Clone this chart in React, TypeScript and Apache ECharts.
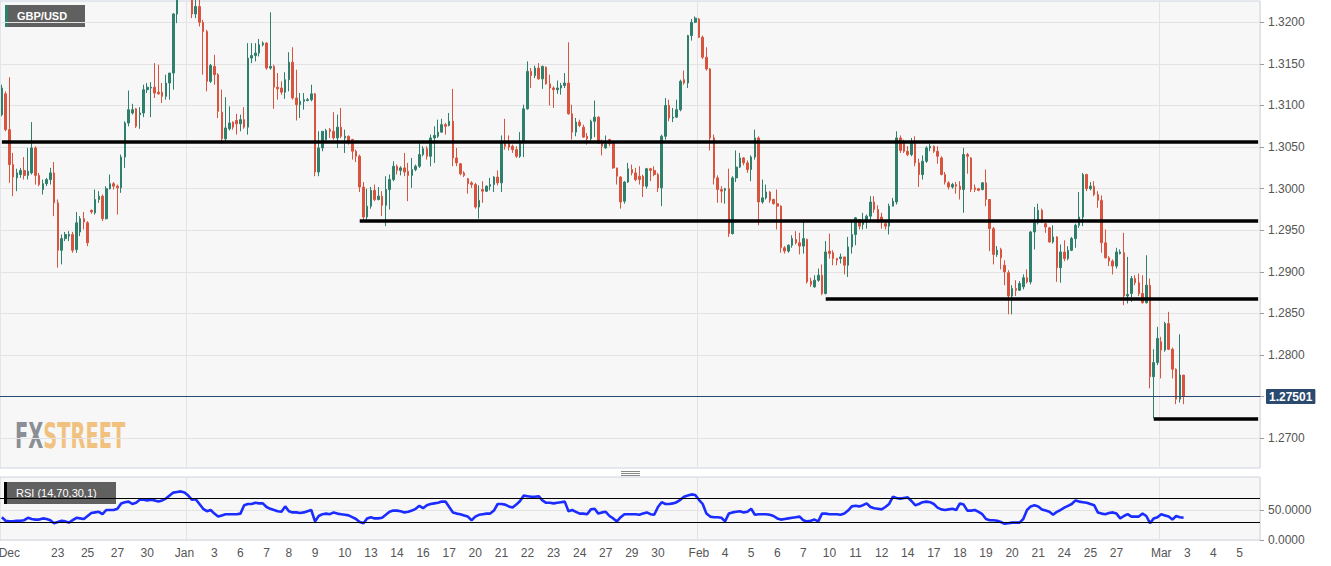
import React, { useEffect, useRef } from "react";
import * as echarts from "echarts";

// [open, close, low, high] — 4-hour GBP/USD candles
const candlesDec: number[][] = [
  [1.3089,1.3121,1.3087,1.3125],[1.3114,1.3071,1.3069,1.3117],[1.3071,1.3029,1.3007,1.3134],[1.3029,1.3014,1.2991,1.3043],
  [1.3013,1.3019,1.2997,1.3024],[1.3017,1.3022,1.3013,1.3025],[1.3022,1.3016,1.3011,1.3038],[1.3016,1.3021,1.3011,1.3049],
  [1.3019,1.3049,1.3017,1.3080],[1.3049,1.3016,1.3005,1.3051],[1.3016,1.3005,1.3003,1.3019],[1.2999,1.3006,1.2993,1.3011],
  [1.3006,1.3011,1.3003,1.3013],[1.3011,1.3019,1.3005,1.3025],[1.3019,1.2983,1.2967,1.3032],[1.2983,1.2926,1.2905,1.2987],
  [1.2926,1.2940,1.2909,1.2945],[1.2940,1.2945,1.2937,1.2948],[1.2943,1.2945,1.2937,1.2949],[1.2945,1.2926,1.2923,1.2948],
  [1.2927,1.2959,1.2923,1.2972],[1.2948,1.2964,1.2943,1.2967],[1.2964,1.2960,1.2951,1.2972],[1.2959,1.2935,1.2931,1.2961],
  [1.2974,1.2972,1.2970,1.2975],[1.2971,1.2987,1.2969,1.2999],[1.2987,1.2991,1.2983,1.2997],[1.2991,1.2964,1.2961,1.2993],
  [1.2964,1.3000,1.2963,1.3003],[1.3000,1.3006,1.2999,1.3017],[1.3006,1.3003,1.2999,1.3008],[1.3003,1.3001,1.2969,1.3005],
  [1.3001,1.3038,1.2995,1.3041],[1.3038,1.3079,1.3025,1.3081],[1.3079,1.3095,1.3075,1.3118],[1.3091,1.3095,1.3089,1.3102],
  [1.3096,1.3075,1.3073,1.3097],[1.3089,1.3091,1.3072,1.3098],[1.3091,1.3119,1.3086,1.3125],[1.3119,1.3122,1.3115,1.3127],
  [1.3121,1.3122,1.3086,1.3128],[1.3122,1.3115,1.3109,1.3151],[1.3116,1.3114,1.3113,1.3149],[1.3116,1.3111,1.3103,1.3127],
  [1.3111,1.3127,1.3107,1.3137],[1.3127,1.3139,1.3107,1.3139],[1.3139,1.3210,1.3119,1.3211],[1.3210,1.3240,1.3199,1.3255],
  [1.3240,1.3265,1.3232,1.3285],[1.3265,1.3250,1.3240,1.3275],[1.3250,1.3235,1.3228,1.3260],[1.3235,1.3210,1.3205,1.3245],
  [1.3210,1.3219,1.3205,1.3232],[1.3219,1.3200,1.3195,1.3227],[1.3200,1.3189,1.3137,1.3203],[1.3189,1.3129,1.3117,1.3191],
  [1.3129,1.3148,1.3127,1.3150],[1.3147,1.3137,1.3125,1.3161],[1.3137,1.3093,1.3085,1.3139],[1.3092,1.3060,1.3054,1.3119],
  [1.3060,1.3073,1.3055,1.3110],[1.3072,1.3079,1.3070,1.3099],[1.3080,1.3074,1.3071,1.3081],[1.3082,1.3078,1.3065,1.3090],
  [1.3078,1.3083,1.3069,1.3089],[1.3083,1.3074,1.3072,1.3098],[1.3074,1.3157,1.3065,1.3175],[1.3157,1.3160,1.3151,1.3175],
  [1.3160,1.3163,1.3153,1.3175],[1.3163,1.3173,1.3159,1.3180],[1.3173,1.3175,1.3171,1.3177],[1.3175,1.3145,1.3143,1.3176],
  [1.3145,1.3147,1.3143,1.3212],[1.3147,1.3122,1.3096,1.3149],[1.3122,1.3120,1.3107,1.3139],[1.3121,1.3116,1.3113,1.3129],
  [1.3116,1.3131,1.3108,1.3140],[1.3131,1.3152,1.3117,1.3164],[1.3152,1.3109,1.3107,1.3170],[1.3109,1.3101,1.3082,1.3143],
  [1.3101,1.3105,1.3085,1.3115],[1.3105,1.3107,1.3095,1.3115],[1.3106,1.3107,1.3105,1.3109],[1.3107,1.3114,1.3105,1.3125],
  [1.3114,1.3020,1.3015,1.3115],[1.3020,1.3049,1.3015,1.3069],[1.3049,1.3069,1.3045,1.3069],[1.3059,1.3070,1.3057,1.3072],
  [1.3071,1.3069,1.3061,1.3073],
];

const candlesJan: number[][] = [
  [1.3069,1.3061,1.3059,1.3092],[1.3061,1.3074,1.3049,1.3089],[1.3074,1.3063,1.3061,1.3097],[1.3061,1.3063,1.3043,1.3071],
  [1.3063,1.3055,1.3053,1.3064],[1.3059,1.3045,1.3035,1.3060],[1.3045,1.3039,1.3032,1.3047],[1.3039,1.3002,1.2996,1.3041],
  [1.3002,1.2966,1.2963,1.3008],[1.2966,1.2979,1.2963,1.3000],[1.2979,1.2998,1.2976,1.3002],[1.2998,1.2987,1.2985,1.3005],
  [1.2987,1.2991,1.2986,1.3002],[1.2991,1.2980,1.2967,1.2997],[1.2980,1.2999,1.2955,1.3015],[1.2999,1.3011,1.2975,1.3017],
  [1.3011,1.3027,1.3009,1.3033],[1.3027,1.3022,1.3017,1.3029],[1.3022,1.3025,1.3016,1.3027],[1.3025,1.3020,1.3015,1.3043],
  [1.3021,1.3016,1.2985,1.3031],[1.3016,1.3023,1.3001,1.3037],[1.3023,1.3027,1.3021,1.3029],[1.3027,1.3041,1.3025,1.3055],
  [1.3041,1.3048,1.3039,1.3051],[1.3048,1.3039,1.3035,1.3051],[1.3039,1.3061,1.3027,1.3065],[1.3061,1.3064,1.3031,1.3075],
  [1.3063,1.3068,1.3061,1.3083],[1.3068,1.3077,1.3067,1.3084],[1.3077,1.3075,1.3065,1.3079],[1.3076,1.3081,1.3075,1.3091],
  [1.3081,1.3037,1.3027,1.3120],[1.3037,1.3031,1.3027,1.3049],[1.3030,1.3018,1.3016,1.3031],[1.3019,1.3016,1.3014,1.3021],
  [1.3012,1.3006,1.2994,1.3013],[1.3007,1.3005,1.3001,1.3009],[1.3005,1.2978,1.2976,1.3007],[1.2978,1.2986,1.2964,1.3004],
  [1.2999,1.2997,1.2983,1.3009],[1.2997,1.3003,1.2996,1.3004],[1.3003,1.3005,1.2998,1.3013],[1.3005,1.3014,1.2996,1.3015],
  [1.3014,1.3007,1.3004,1.3022],[1.3007,1.3056,1.2996,1.3064],[1.3056,1.3051,1.3047,1.3084],[1.3055,1.3050,1.3046,1.3064],
  [1.3051,1.3047,1.3043,1.3053],[1.3047,1.3039,1.3037,1.3051],[1.3039,1.3056,1.3037,1.3068],[1.3056,1.3096,1.3038,1.3101],
  [1.3096,1.3141,1.3095,1.3153],[1.3141,1.3136,1.3121,1.3145],[1.3136,1.3145,1.3133,1.3148],[1.3145,1.3132,1.3131,1.3151],
  [1.3132,1.3147,1.3120,1.3148],[1.3146,1.3126,1.3125,1.3147],[1.3126,1.3121,1.3100,1.3137],[1.3121,1.3119,1.3097,1.3123],
  [1.3119,1.3121,1.3114,1.3130],[1.3121,1.3124,1.3113,1.3127],[1.3124,1.3127,1.3121,1.3139],[1.3127,1.3090,1.3089,1.3176],
  [1.3090,1.3068,1.3059,1.3101],[1.3068,1.3080,1.3063,1.3085],[1.3080,1.3076,1.3074,1.3083],[1.3074,1.3062,1.3061,1.3077],
  [1.3063,1.3060,1.3053,1.3067],[1.3060,1.3081,1.3055,1.3083],[1.3081,1.3086,1.3062,1.3106],[1.3086,1.3055,1.3054,1.3087],
  [1.3056,1.3051,1.3040,1.3059],[1.3049,1.3054,1.3048,1.3064],[1.3059,1.3054,1.3051,1.3060],[1.3055,1.3025,1.3024,1.3057],
  [1.3025,1.3015,1.3005,1.3025],[1.3014,1.2984,1.2976,1.3015],[1.2985,1.3008,1.2982,1.3009],[1.3008,1.3024,1.3007,1.3031],
  [1.3023,1.3019,1.3016,1.3029],[1.3019,1.3011,1.3009,1.3025],[1.3015,1.3011,1.3005,1.3027],[1.3015,1.3003,1.2990,1.3017],
  [1.3003,1.3024,1.3000,1.3025],[1.3024,1.3022,1.3009,1.3025],[1.3022,1.3017,1.3015,1.3027],[1.3017,1.3001,1.2996,1.3019],
];

const candlesFeb: number[][] = [
  [1.3001,1.3063,1.2979,1.3065],[1.3063,1.3100,1.3059,1.3109],[1.3100,1.3085,1.3081,1.3107],[1.3085,1.3086,1.3080,1.3097],
  [1.3086,1.3095,1.3085,1.3107],[1.3095,1.3129,1.3093,1.3131],[1.3131,1.3127,1.3125,1.3142],[1.3127,1.3184,1.3121,1.3185],
  [1.3184,1.3200,1.3178,1.3204],[1.3200,1.3205,1.3199,1.3207],[1.3204,1.3182,1.3181,1.3205],[1.3182,1.3158,1.3156,1.3184],
  [1.3158,1.3144,1.3142,1.3170],[1.3144,1.3061,1.3046,1.3145],[1.3061,1.3013,1.3005,1.3065],[1.3013,1.2999,1.2983,1.3016],
  [1.2999,1.2997,1.2983,1.3003],[1.2998,1.3000,1.2982,1.3001],[1.3000,1.2946,1.2942,1.3024],[1.2946,1.3013,1.2945,1.3015],
  [1.3013,1.3026,1.3008,1.3046],[1.3026,1.3037,1.3025,1.3043],[1.3037,1.3031,1.3028,1.3038],[1.3031,1.3023,1.3019,1.3034],
  [1.3023,1.3038,1.3009,1.3040],[1.3038,1.3061,1.3035,1.3071],[1.3061,1.2984,1.2956,1.3063],[1.2984,1.2989,1.2982,1.3011],
  [1.2989,1.2996,1.2987,1.3005],[1.2996,1.2986,1.2983,1.2997],[1.2987,1.2982,1.2981,1.2988],[1.2982,1.2979,1.2951,1.2999],
  [1.2979,1.2929,1.2923,1.2980],[1.2929,1.2925,1.2922,1.2931],[1.2925,1.2932,1.2923,1.2933],[1.2932,1.2940,1.2929,1.2944],
  [1.2939,1.2935,1.2933,1.2949],[1.2935,1.2931,1.2921,1.2947],[1.2931,1.2940,1.2922,1.2961],[1.2939,1.2888,1.2886,1.2940],
  [1.2889,1.2885,1.2882,1.2893],[1.2882,1.2890,1.2881,1.2896],[1.2890,1.2896,1.2888,1.2904],[1.2896,1.2874,1.2872,1.2909],
  [1.2874,1.2924,1.2873,1.2937],[1.2925,1.2922,1.2916,1.2946],[1.2923,1.2916,1.2908,1.2926],[1.2916,1.2914,1.2908,1.2917],
  [1.2916,1.2918,1.2910,1.2922],[1.2918,1.2908,1.2897,1.2918],[1.2908,1.2930,1.2894,1.2942],[1.2930,1.2945,1.2922,1.2960],
  [1.2945,1.2965,1.2932,1.2966],[1.2963,1.2955,1.2951,1.2963],[1.2957,1.2961,1.2951,1.2971],[1.2960,1.2967,1.2952,1.2969],
  [1.2967,1.2984,1.2960,1.2991],[1.2984,1.2975,1.2971,1.2991],[1.2975,1.2961,1.2959,1.2980],[1.2966,1.2960,1.2952,1.2971],
  [1.2958,1.2955,1.2951,1.2960],[1.2955,1.2979,1.2945,1.2982],[1.2979,1.2985,1.2979,1.2989],[1.2984,1.3061,1.2981,1.3069],
  [1.3061,1.3046,1.3043,1.3064],[1.3056,1.3045,1.3043,1.3059],[1.3045,1.3041,1.3039,1.3051],[1.3041,1.3056,1.3039,1.3061],
  [1.3056,1.3031,1.3027,1.3063],[1.3031,1.3017,1.3002,1.3036],[1.3017,1.3033,1.3011,1.3040],[1.3033,1.3049,1.3031,1.3051],
  [1.3049,1.3051,1.3045,1.3054],[1.3051,1.3045,1.3043,1.3052],[1.3045,1.3039,1.3030,1.3051],[1.3037,1.3017,1.3016,1.3039],
  [1.3017,1.3008,1.3005,1.3020],[1.3007,1.3002,1.2999,1.3009],[1.3002,1.3005,1.3000,1.3007],[1.3005,1.3003,1.2994,1.3008],
  [1.3003,1.2999,1.2987,1.3009],[1.2999,1.3041,1.2971,1.3049],[1.3041,1.3039,1.3018,1.3043],[1.3037,1.2999,1.2996,1.3038],
  [1.3001,1.2999,1.2996,1.3005],[1.3000,1.2998,1.2997,1.3001],[1.2999,1.3007,1.2998,1.3008],[1.3007,1.2987,1.2979,1.3023],
  [1.2987,1.2952,1.2925,1.2987],
];

const candlesLateFeb: number[][] = [
  [1.2952,1.2921,1.2909,1.2954],[1.2921,1.2926,1.2918,1.2931],[1.2927,1.2917,1.2903,1.2929],[1.2908,1.2900,1.2884,1.2914],
  [1.2899,1.2871,1.2849,1.2902],[1.2871,1.2880,1.2849,1.2884],[1.2880,1.2878,1.2871,1.2890],[1.2878,1.2886,1.2877,1.2889],
  [1.2882,1.2893,1.2879,1.2897],[1.2893,1.2888,1.2886,1.2903],[1.2888,1.2948,1.2885,1.2949],[1.2948,1.2959,1.2927,1.2978],
  [1.2959,1.2974,1.2957,1.2982],[1.2974,1.2960,1.2959,1.2976],[1.2958,1.2954,1.2947,1.2959],[1.2953,1.2936,1.2935,1.2954],
  [1.2936,1.2942,1.2934,1.2956],[1.2942,1.2905,1.2888,1.2943],[1.2905,1.2924,1.2887,1.2933],[1.2924,1.2916,1.2913,1.2938],
  [1.2916,1.2926,1.2914,1.2931],[1.2926,1.2940,1.2925,1.2942],[1.2940,1.2956,1.2929,1.2958],[1.2956,1.2966,1.2953,1.2996],
  [1.2966,1.3017,1.2955,1.3019],[1.3017,1.3000,1.2997,1.3018],[1.3000,1.3003,1.2998,1.3008],[1.3003,1.2993,1.2991,1.3009],
  [1.2993,1.2986,1.2977,1.2997],[1.2986,1.2935,1.2923,1.2992],[1.2935,1.2917,1.2916,1.2951],[1.2917,1.2913,1.2907,1.2919],
  [1.2913,1.2907,1.2897,1.2915],[1.2907,1.2924,1.2904,1.2929],[1.2922,1.2924,1.2921,1.2927],[1.2923,1.2871,1.2860,1.2947],
  [1.2871,1.2873,1.2862,1.2918],[1.2874,1.2892,1.2864,1.2895],[1.2892,1.2887,1.2884,1.2896],[1.2887,1.2874,1.2871,1.2898],
  [1.2874,1.2863,1.2862,1.2896],[1.2863,1.2884,1.2862,1.2920],[1.2884,1.2774,1.2760,1.2892],[1.2774,1.2791,1.2724,1.2807],
  [1.2791,1.2820,1.2788,1.2834],[1.2816,1.2806,1.2772,1.2822],[1.2806,1.2838,1.2804,1.2840],[1.2838,1.2807,1.2806,1.2852],
  [1.2807,1.2783,1.2772,1.2809],[1.2783,1.2747,1.2741,1.2784],[1.2747,1.2776,1.2743,1.2825],[1.2776,1.2750,1.2741,1.2776],
];

// RSI (14) value per candle
const rsiValues: number[] = [
  38,32,31,31,32,32,33,37,35,34,34,36,35,33,28,30,32,31,29,33,
  37,36,35,40,45,46,47,43,50,50,50,52,61,63,64,60,62,67,67,66,
  67,66,64,66,69,74,79,80,81,79,74,67,68,60,52,48,50,44,39,41,
  43,43,43,43,44,58,60,60,62,61,61,55,52,50,48,47,56,48,46,46,
  45,46,48,50,31,40,43,44,43,46,44,43,42,41,38,35,30,28,36,38,
  36,36,37,42,47,49,49,48,46,47,49,52,57,53,58,60,61,62,64,64,
  55,46,44,43,41,39,33,39,42,43,44,44,49,60,60,59,56,54,59,65,
  74,73,72,72,73,66,62,62,61,62,63,64,48,50,47,44,44,43,51,52,
  44,46,47,40,36,31,38,43,43,43,43,42,44,46,43,42,55,63,60,60,
  61,63,67,72,74,76,75,67,60,44,39,38,38,37,31,44,46,47,48,46,
  47,52,42,43,43,43,42,40,36,34,35,36,37,38,39,33,31,32,34,31,
  44,44,43,43,43,42,44,49,56,57,56,58,61,55,53,52,51,55,60,72,
  70,69,70,71,65,58,60,63,64,63,60,54,51,50,51,52,50,61,59,49,
  49,50,47,43,35,33,33,32,30,27,28,29,29,29,35,50,56,58,56,51,
  49,47,42,47,50,54,57,60,66,64,63,62,60,58,46,44,43,45,46,44,
  36,40,43,39,39,39,44,40,28,36,38,43,41,39,34,40,38,37,
];

// candle index -> date label
const dateTicks: [number, string][] = [
  [2, "Dec"], [15, "23"], [23, "25"], [31, "27"], [39, "30"], [49, "Jan"], [57, "3"], [64, "6"], [71, "7"],
  [77, "8"], [84, "9"], [92, "10"], [99, "13"], [106, "14"], [113, "16"], [120, "17"], [127, "20"], [134, "21"],
  [141, "22"], [148, "23"], [155, "24"], [162, "27"], [169, "29"], [176, "30"], [187, "Feb"], [194, "4"],
  [201, "5"], [208, "6"], [215, "7"], [222, "10"], [229, "11"], [236, "12"], [243, "14"], [250, "17"],
  [257, "18"], [264, "19"], [271, "20"], [278, "21"], [285, "24"], [292, "25"], [299, "27"], [311, "Mar"],
  [318, "3"], [325, "4"], [332, "5"],
];
const monthStarts = [50, 187, 311];
const priceTicks = [1.27, 1.275, 1.28, 1.285, 1.29, 1.295, 1.3, 1.305, 1.31, 1.315, 1.32];
const priceLabels = [1.27, 1.28, 1.285, 1.29, 1.295, 1.3, 1.305, 1.31, 1.315, 1.32];
const rsiTicks = [0, 50];
const rsiBands = [70, 30];
const levelStarts = [0, 96, 221, 309];
const levelPrices = [1.30565, 1.2962, 1.28683, 1.2724];
const lastPrice = 1.27501;
const totalSlots = 338;
const pairName = "GBP/USD";
const rsiName = "RSI (14,70,30,1)";

const UP = "#2e7f6b";
const DOWN = "#d9543f";
const FONT = "'Liberation Sans', Arial, sans-serif";
const WM_FONT = "'Liberation Sans Narrow', 'DejaVu Sans Condensed', Roboto, sans-serif";

export default function App() {
  const ref = useRef<HTMLDivElement>(null);

  useEffect(() => {
    if (!ref.current) return;
    const chart = echarts.init(ref.current, undefined, { renderer: "svg" });
    const candles = [...candlesDec, ...candlesJan, ...candlesFeb, ...candlesLateFeb];
    const categories = Array.from({ length: totalSlots }, (_, i) => String(i));
    const tickMap = new Map<number, string>(dateTicks);
    const lastSlot = String(totalSlots - 1);

    const levelLines = levelPrices.map((p, i) => [
      { coord: [String(levelStarts[i]), p] },
      { coord: [lastSlot, p] },
    ]);

    const gridBase = {
      left: 0,
      width: 1260,
      show: true,
      backgroundColor: "#f7f7f7",
      borderColor: "#cdd3e0",
      borderWidth: 1,
      containLabel: false,
      outerBoundsMode: "none",
    };

    const xBase = {
      type: "category",
      data: categories,
      boundaryGap: true,
      axisLine: { show: false },
      axisTick: { show: false },
      splitLine: {
        show: true,
        interval: (i: number) => monthStarts.includes(i),
        lineStyle: { color: "#e3e3e3", width: 1 },
      },
    };

    const option: any = {
      animation: false,
      backgroundColor: "#ffffff",
      grid: [
        { ...gridBase, top: 1, height: 467 },
        { ...gridBase, top: 477, height: 63 },
      ],
      xAxis: [
        { ...xBase, gridIndex: 0, axisLabel: { show: false } },
        {
          ...xBase,
          gridIndex: 1,
          axisLabel: {
            show: true,
            interval: (i: number) => tickMap.has(i),
            formatter: (_v: string, i: number) => tickMap.get(i) ?? "",
            color: "#555",
            fontSize: 12,
            fontFamily: FONT,
            margin: 7,
          },
        },
      ],
      yAxis: [
        {
          type: "value",
          gridIndex: 0,
          position: "right",
          min: 1.26643,
          max: 1.32256,
          minInterval: 0.005,
          maxInterval: 0.005,
          splitNumber: 11,
          axisLine: { show: false },
          axisTick: { show: true, length: 4, lineStyle: { color: "#9a9a9a" }, customValues: priceTicks },
          axisLabel: {
            customValues: priceLabels,
            formatter: (v: number) => v.toFixed(4),
            color: "#555",
            fontSize: 12,
            fontFamily: FONT,
            margin: 8,
          },
          splitLine: { show: true, lineStyle: { color: "#e3e3e3", width: 1 } },
        },
        {
          type: "value",
          gridIndex: 1,
          position: "right",
          min: 0,
          max: 105,
          interval: 50,
          axisLine: { show: false },
          axisTick: { show: true, length: 4, lineStyle: { color: "#9a9a9a" }, customValues: rsiTicks },
          axisLabel: {
            customValues: rsiTicks,
            formatter: (v: number) => v.toFixed(4),
            color: "#555",
            fontSize: 12,
            fontFamily: FONT,
            margin: 8,
          },
          splitLine: { show: true, lineStyle: { color: "#e3e3e3", width: 1 } },
        },
      ],
      series: [
        {
          type: "candlestick",
          xAxisIndex: 0,
          yAxisIndex: 0,
          data: candles,
          barWidth: "55%",
          clip: true,
          itemStyle: { color: UP, color0: DOWN, borderColor: UP, borderColor0: DOWN, borderWidth: 1 },
          markLine: {
            silent: true,
            animation: false,
            precision: 5,
            symbol: ["none", "none"],
            label: { show: false },
            lineStyle: { color: "#000", width: 3.5, type: "solid" },
            data: [
              ...levelLines,
              {
                yAxis: lastPrice,
                lineStyle: { color: "#2b4a70", width: 1, type: "solid" },
                label: {
                  show: true,
                  position: "end",
                  formatter: () => lastPrice.toFixed(5),
                  color: "#fff",
                  fontWeight: "bold",
                  fontSize: 12,
                  fontFamily: FONT,
                  backgroundColor: "#2b4a70",
                  padding: [2, 3, 1, 3],
                  borderRadius: 1,
                  distance: 6,
                },
              },
            ],
          },
        },
        {
          type: "line",
          xAxisIndex: 1,
          yAxisIndex: 1,
          data: rsiValues,
          symbol: "none",
          silent: true,
          z: 1,
          lineStyle: { opacity: 0 },
          markLine: {
            silent: true,
            animation: false,
            symbol: ["none", "none"],
            label: { show: false },
            lineStyle: { color: "#000", width: 1, type: "solid" },
            data: rsiBands.map((v) => ({ yAxis: v })),
          },
        },
        {
          type: "line",
          name: "RSI",
          xAxisIndex: 1,
          yAxisIndex: 1,
          data: rsiValues,
          symbol: "none",
          z: 3,
          lineStyle: { color: "#1a2cff", width: 2.6 },
        },
      ],
      graphic: [
        { type: "rect", shape: { x: 5, y: 5, width: 80, height: 22 }, style: { fill: "#606060" } },
        { type: "rect", shape: { x: 5, y: 5, width: 3, height: 22 }, style: { fill: UP } },
        {
          type: "text",
          x: 17,
          y: 16,
          style: {
            text: pairName,
            fill: "#fff",
            font: `bold 11px ${FONT}`,
            textVerticalAlign: "middle",
            verticalAlign: "middle",
          },
        },
        { type: "rect", shape: { x: 4, y: 482, width: 112, height: 22 }, style: { fill: "#606060" } },
        { type: "rect", shape: { x: 4, y: 482, width: 3, height: 22 }, style: { fill: "#000" } },
        {
          type: "text",
          x: 16,
          y: 493,
          style: {
            text: rsiName,
            fill: "#fff",
            font: `11px ${FONT}`,
            textVerticalAlign: "middle",
            verticalAlign: "middle",
          },
        },
        {
          type: "text",
          x: 15,
          y: 435,
          scaleX: 0.6,
          style: {
            text: "{a|FX}{b|STREET}",
            textVerticalAlign: "middle",
            verticalAlign: "middle",
            rich: {
              a: { fill: "#8a8e96", fontSize: 36, fontWeight: "bold", fontFamily: WM_FONT },
              b: { fill: "#f1c27f", fontSize: 36, fontWeight: "bold", fontFamily: WM_FONT },
            },
          },
        },
        { type: "rect", shape: { x: 621, y: 471, width: 19, height: 1 }, style: { fill: "#8a8a8a" } },
        { type: "rect", shape: { x: 621, y: 473, width: 19, height: 1 }, style: { fill: "#8a8a8a" } },
        { type: "rect", shape: { x: 621, y: 475, width: 19, height: 1 }, style: { fill: "#8a8a8a" } },
      ],
    };

    chart.setOption(option);
    return () => chart.dispose();
  }, []);

  return (
    <div style={{ position: "fixed", left: 0, top: 0, width: 1331, height: 566, background: "#fff" }}>
      <div ref={ref} style={{ width: 1331, height: 566 }} />
    </div>
  );
}
